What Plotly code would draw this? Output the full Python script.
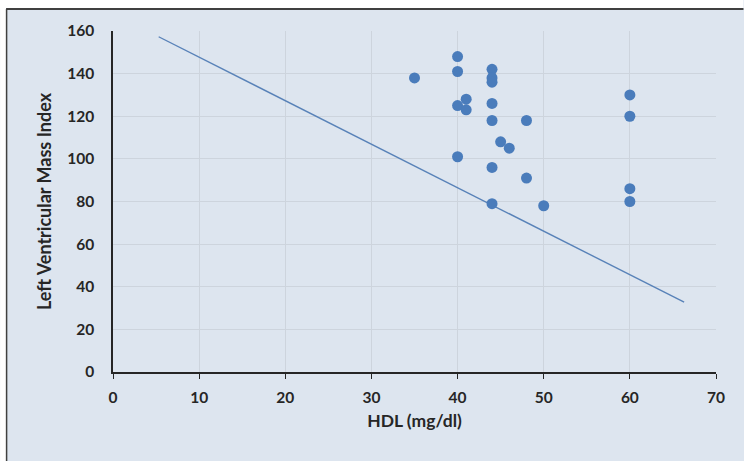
import plotly.graph_objects as go

# HDL (mg/dl) vs Left Ventricular Mass Index
hdl = [35, 40, 40, 40, 40, 41, 41, 44, 44, 44, 44, 44, 44, 44, 45, 46, 48, 48, 50, 60, 60, 60, 60]
lvmi = [138, 148, 141, 125, 101, 128, 123, 142, 138, 136, 126, 118, 96, 79, 108, 105, 118, 91, 78, 130, 120, 86, 80]

# fitted trend line end points
trend_x = [5.3, 66.3]
trend_y = [157.3, 32.8]

x_ticks = [0, 10, 20, 30, 40, 50, 60, 70]
y_ticks = [0, 20, 40, 60, 80, 100, 120, 140, 160]

BG = "#dde5ef"
FONT = "Lato, Carlito, Calibri, sans-serif"
TXT = "#262626"

fig = go.Figure()
fig.add_trace(go.Scatter(
    x=trend_x, y=trend_y, mode="lines",
    line=dict(color="#5882b8", width=1.4),
    hoverinfo="skip", showlegend=False,
))
fig.add_trace(go.Scatter(
    x=hdl, y=lvmi, mode="markers",
    marker=dict(color="#4a7cbb", size=11),
    showlegend=False,
))

W, H = 744, 461
ml, mr, mt, mb = 113, 27.5, 31, 89
pw, ph = W - ml - mr, H - mt - mb


def px(x):
    return (x - ml) / pw


def py(y):
    return (H - mb - y) / ph


shapes = [
    # white strips outside the chart frame
    dict(type="rect", xref="paper", yref="paper", x0=px(0), x1=px(W), y0=py(8.5), y1=py(0),
         fillcolor="white", line=dict(width=0), layer="below"),
    dict(type="rect", xref="paper", yref="paper", x0=px(0), x1=px(6), y0=py(H), y1=py(0),
         fillcolor="white", line=dict(width=0), layer="below"),
    # frame edges
    dict(type="line", xref="paper", yref="paper", x0=px(6), x1=px(W), y0=py(9), y1=py(9),
         line=dict(color="#404040", width=2)),
    dict(type="line", xref="paper", yref="paper", x0=px(6.5), x1=px(6.5), y0=py(9), y1=py(H),
         line=dict(color="#404040", width=1.5)),
]

fig.update_layout(
    width=W, height=H,
    margin=dict(l=ml, r=mr, t=mt, b=mb),
    paper_bgcolor=BG, plot_bgcolor=BG,
    font=dict(family=FONT, color=TXT),
    shapes=shapes,
    xaxis=dict(
        range=[0, 70], tickvals=x_ticks, ticktext=[str(v) for v in x_ticks],
        showgrid=True, gridcolor="#cdd4dd", gridwidth=1,
        showline=True, linecolor=TXT, linewidth=1.5,
        ticks="outside", ticklen=5, tickcolor=TXT,
        ticklabelstandoff=6,
        tickfont=dict(size=15.5, family=FONT, weight="bold", color=TXT),
        title=dict(text="HDL (mg/dl)", font=dict(size=17.5, family=FONT, weight="bold", color=TXT), standoff=9),
        zeroline=False,
    ),
    yaxis=dict(
        range=[0, 160], tickvals=y_ticks, ticktext=[str(v) for v in y_ticks],
        showgrid=True, gridcolor="#cdd4dd", gridwidth=1,
        showline=True, linecolor=TXT, linewidth=1.5,
        ticks="", ticklabelstandoff=14,
        tickfont=dict(size=15.5, family=FONT, weight="bold", color=TXT),
        title=dict(text="Left Ventricular Mass Index", font=dict(size=18, family=FONT, weight="bold", color=TXT), standoff=11),
        zeroline=False,
    ),
)

fig.write_html("out.html")
